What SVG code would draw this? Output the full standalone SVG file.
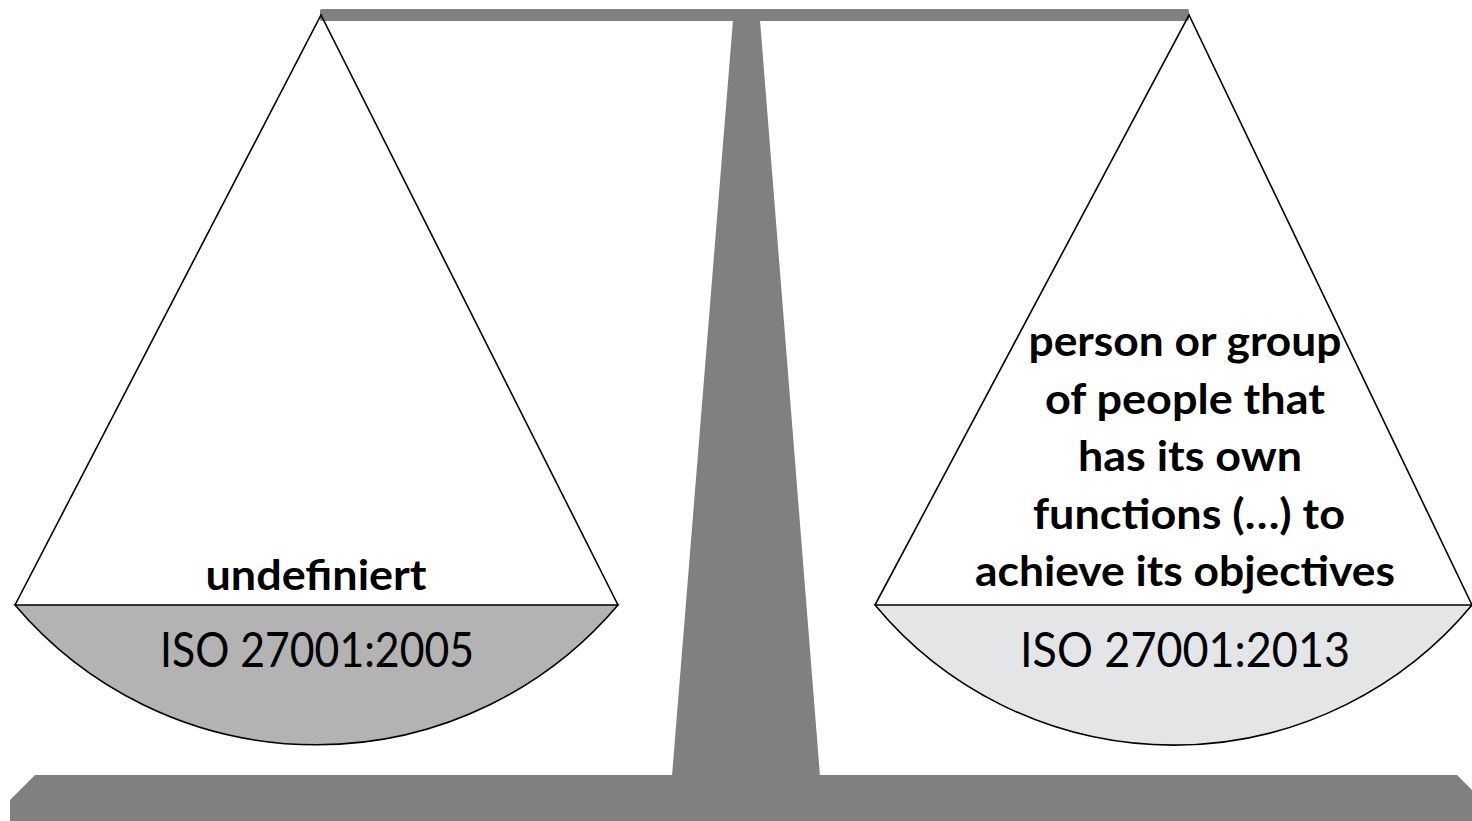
<svg xmlns="http://www.w3.org/2000/svg" width="1472" height="821" viewBox="0 0 1472 821">
<style>
.stand{fill:#808080;stroke:none}
.string{fill:none;stroke:#000;stroke-width:1.6;stroke-linejoin:miter}
.bowl{stroke:#000;stroke-width:1.6}
.lbl{font-family:Lato,"Open Sans","Liberation Sans",sans-serif;font-weight:700;font-size:42px;fill:#000;text-anchor:middle}
.iso{font-family:Lato,"Open Sans","Liberation Sans",sans-serif;font-weight:400;font-size:48px;fill:#000;text-anchor:middle}
</style>
<rect width="1472" height="821" fill="#fff"/>
<g id="stand">
<rect class="stand" x="320" y="9" width="869" height="12" rx="2"/>
<polygon class="stand" points="733,20 760,20 820,776 672,776"/>
<polygon class="stand" points="10,800 35,775 1457,775 1472,790 1472,821 10,821"/>
</g>
<g id="left-pan">
<path class="bowl" fill="#b3b3b3" d="M15,605 A395,395 0 0 0 618,605 Z"/>
<polyline class="string" points="15,605 321,15 618,605"/>
<text class="lbl" x="316" y="590" textLength="221" lengthAdjust="spacingAndGlyphs">undefiniert</text>
<text class="iso" x="317" y="667" textLength="314" lengthAdjust="spacingAndGlyphs">ISO 27001:2005</text>
</g>
<g id="right-pan">
<path class="bowl" fill="#e4e5e6" d="M875,605 A388,388 0 0 0 1472,605 Z"/>
<polyline class="string" points="875,605 1189,15 1472,605"/>
<text class="lbl" x="1185" y="356" textLength="313" lengthAdjust="spacingAndGlyphs">person or group</text>
<text class="lbl" x="1185" y="413.5" textLength="280" lengthAdjust="spacingAndGlyphs">of people that</text>
<text class="lbl" x="1190" y="471" textLength="224" lengthAdjust="spacingAndGlyphs">has its own</text>
<text class="lbl" x="1189" y="528.5" textLength="312" lengthAdjust="spacingAndGlyphs">functions (…) to</text>
<text class="lbl" x="1185" y="586" textLength="420" lengthAdjust="spacingAndGlyphs">achieve its objectives</text>
<text class="iso" x="1185" y="667" textLength="330" lengthAdjust="spacingAndGlyphs">ISO 27001:2013</text>
</g>
<g id="connectors"></g>
</svg>
